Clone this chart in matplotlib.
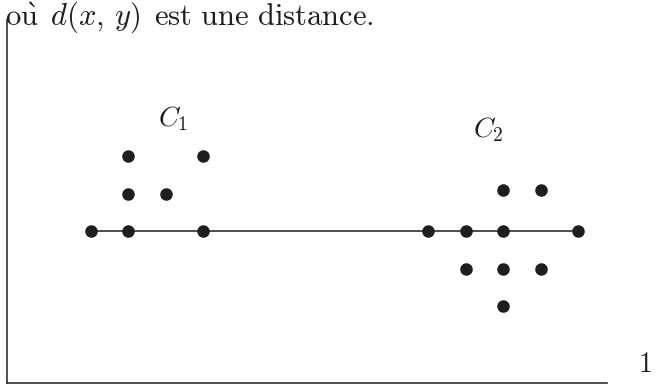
import matplotlib
matplotlib.use("Agg")
import matplotlib.pyplot as plt

plt.rcParams["mathtext.fontset"] = "cm"
plt.rcParams["axes.unicode_minus"] = False

# grid positions of the points (one unit = spacing between neighbouring dots)
c1_x = [0, 1, 3, 1, 2, 1, 3]
c1_y = [0, 0, 0, 1, 1, 2, 2]
c2_x = [9, 10, 11, 13, 11, 12, 10, 11, 12, 11]
c2_y = [0, 0, 0, 0, 1.1, 1.1, -1, -1, -1, -2]
axis_x = [0, 13]
axis_y = [0, 0]
labels = ["$C_1$", "$C_2$"]
label_pos = [(2.2, 3.0), (10.6, 2.7)]

ink = "#1e1e1e"

fig = plt.figure(figsize=(6.56, 3.87), dpi=100)
ax = fig.add_axes([0, 0, 1, 1])
ax.set_xlim(-2.427, 15.07)
ax.set_ylim(-4.16, 6.16)
ax.axis("off")

# page frame (left rule and bottom rule of the scan)
ax.plot([-2.24, -2.24], [5.63, -4.05], color=ink, lw=1.1)
ax.plot([-2.24, 13.76], [-4.05, -4.05], color=ink, lw=1.1)

ax.plot(axis_x, axis_y, color=ink, lw=1.1, zorder=1)
ax.plot(c1_x, c1_y, "o", color=ink, ms=8, zorder=2)
ax.plot(c2_x, c2_y, "o", color=ink, ms=8, zorder=2)

for txt, (x, y) in zip(labels, label_pos):
    ax.text(x, y, txt, fontsize=20, ha="center", va="center", color=ink)

fig.text(0.008, 0.937,
         r"$\mathrm{o\grave{u}}\ \,d(x,\,y)\ \,\mathrm{est\ une\ distance.}$",
         fontsize=22, color=ink, ha="left", va="baseline")
fig.text(0.972, 0.04, r"$1$", fontsize=20, color=ink,
         ha="left", va="baseline")

fig.savefig("out.png", dpi=100)
